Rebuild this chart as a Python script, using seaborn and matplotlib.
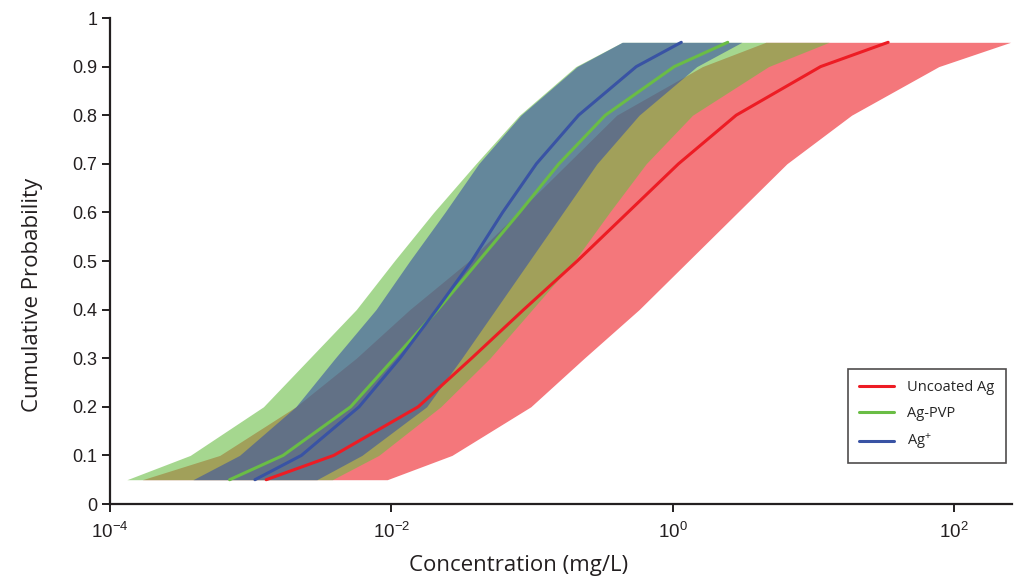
import numpy as np
import pandas as pd
import matplotlib.pyplot as plt
plt.switch_backend('Agg')
import seaborn as sns
from matplotlib.ticker import NullLocator, LogFormatterMathtext

# cumulative probability levels
prob = [0.05, 0.1, 0.2, 0.3, 0.4, 0.5, 0.6, 0.7, 0.8, 0.9, 0.95]

# log10 of concentration (mg/L): median line, lower and upper band edge
uncoated_mid = [-2.89, -2.41, -1.81, -1.43, -1.06, -0.68, -0.32, 0.04, 0.45, 1.05, 1.53]
uncoated_low = [-3.77, -3.22, -2.68, -2.25, -1.87, -1.45, -1.10, -0.75, -0.40, 0.21, 0.66]
uncoated_high = [-2.03, -1.57, -1.01, -0.63, -0.24, 0.11, 0.46, 0.81, 1.27, 1.89, 2.40]

pvp_mid = [-3.15, -2.77, -2.29, -1.98, -1.67, -1.38, -1.09, -0.81, -0.48, 0.01, 0.39]
pvp_low = [-3.88, -3.43, -2.91, -2.58, -2.25, -1.98, -1.70, -1.40, -1.09, -0.69, -0.36]
pvp_high = [-2.42, -2.09, -1.65, -1.30, -1.00, -0.70, -0.45, -0.19, 0.14, 0.68, 1.11]

ion_mid = [-2.97, -2.64, -2.23, -1.94, -1.68, -1.43, -1.21, -0.97, -0.67, -0.26, 0.06]
ion_low = [-3.41, -3.08, -2.68, -2.40, -2.11, -1.87, -1.62, -1.38, -1.08, -0.68, -0.36]
ion_high = [-2.53, -2.21, -1.75, -1.50, -1.26, -1.02, -0.78, -0.54, -0.24, 0.17, 0.49]

labels = ["Uncoated Ag", "Ag-PVP", "Ag$^{+}$"]
colors = ["#ED1C24", "#6ABD45", "#3953A4"]

mids = [uncoated_mid, pvp_mid, ion_mid]
lows = [uncoated_low, pvp_low, ion_low]
highs = [uncoated_high, pvp_high, ion_high]

rows = []
for lab, mid in zip(labels, mids):
    for p, m in zip(prob, mid):
        rows.append({"material": lab, "conc": 10 ** m, "prob": p})
df = pd.DataFrame(rows)

sns.set_style("ticks")
plt.rcParams['font.family'] = ['Liberation Sans', 'DejaVu Sans']
plt.rcParams['mathtext.fontset'] = 'custom'
plt.rcParams['mathtext.rm'] = 'Liberation Sans'
plt.rcParams['mathtext.it'] = 'Liberation Sans:italic'
plt.rcParams['mathtext.bf'] = 'Liberation Sans:bold'

fig = plt.figure(figsize=(10.14, 5.77), dpi=100)
ax = fig.add_axes([0.1085, 0.1265, 0.8895, 0.8423])

# bands: red first, then green, blue on top
for lo, hi, c in zip(lows, highs, colors):
    ax.fill_betweenx(prob, np.power(10.0, lo), np.power(10.0, hi),
                     color=c, alpha=0.6, linewidth=0)

sns.lineplot(data=df, x="conc", y="prob", hue="material", hue_order=labels,
             palette=colors, estimator=None, sort=False, linewidth=2.2, ax=ax)

ax.set_xscale("log")
ax.set_xlim(1e-4, 10 ** 2.41)
ax.set_ylim(0, 1)
ax.set_xticks([1e-4, 1e-2, 1, 1e2])
ax.xaxis.set_major_formatter(LogFormatterMathtext())
ax.xaxis.set_minor_locator(NullLocator())
ax.set_yticks(np.arange(0, 1.01, 0.1))
ax.set_yticklabels(["0", "0.1", "0.2", "0.3", "0.4", "0.5", "0.6", "0.7", "0.8", "0.9", "1"])

sns.despine(ax=ax)
for s in ["left", "bottom"]:
    ax.spines[s].set_linewidth(1.6)
    ax.spines[s].set_color("#231F20")
ax.tick_params(axis="both", direction="out", length=6, width=1.4, color="#231F20",
               labelsize=13, labelcolor="#231F20", pad=3)
ax.tick_params(axis="x", labelsize=13.5, pad=7)

ax.set_xlabel("Concentration (mg/L)", fontsize=16, family="Open Sans", color="#231F20")
ax.set_ylabel("Cumulative Probability", fontsize=16, family="Open Sans", color="#231F20")
ax.xaxis.set_label_coords(0.453, -0.105)
ax.yaxis.set_label_coords(-0.074, 0.43)

leg = ax.legend(loc="lower right", bbox_to_anchor=(0.993, 0.084), borderaxespad=0,
                frameon=True, fancybox=False, handlelength=2.4,
                handletextpad=0.9, borderpad=0.75, labelspacing=0.75,
                prop={"family": "Open Sans", "size": 10.5})
leg.get_frame().set_edgecolor("#231F20")
leg.get_frame().set_linewidth(1.2)
for h in leg.get_lines():
    h.set_linewidth(2.2)

fig.savefig("out.png", dpi=100)
